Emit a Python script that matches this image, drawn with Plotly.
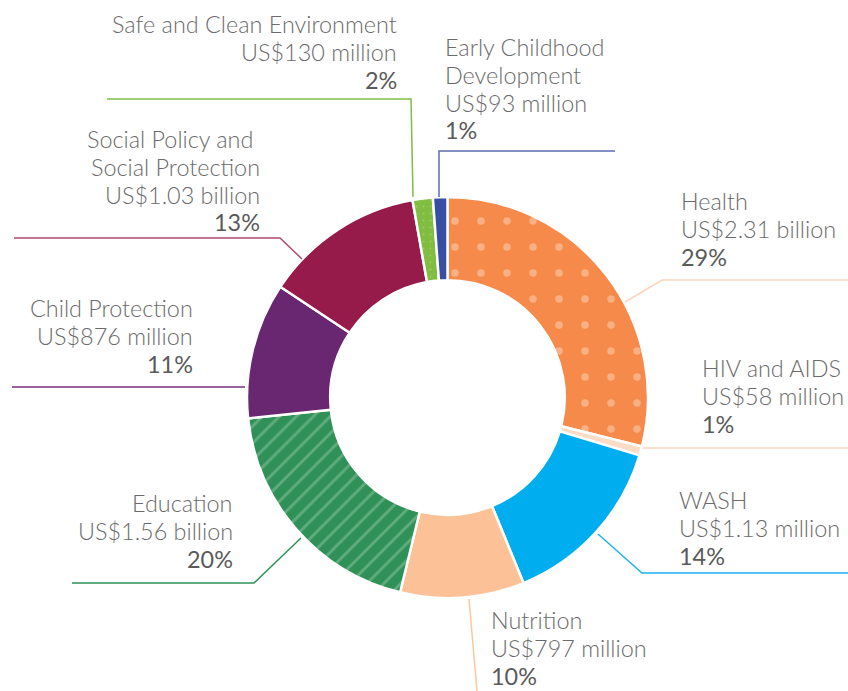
import plotly.graph_objects as go

W, H = 848, 691

# ---- data ----
categories = ["Health", "HIV and AIDS", "WASH", "Nutrition", "Education",
              "Child Protection", "Social Policy and Social Protection",
              "Safe and Clean Environment", "Early Childhood Development"]
name_lines = [["Health"], ["HIV and AIDS"], ["WASH"], ["Nutrition"], ["Education"],
              ["Child Protection"], ["Social Policy and&nbsp;", "Social Protection"],
              ["Safe and Clean Environment"], ["Early Childhood", "Development"]]
values_musd = [2310, 58, 1130, 797, 1560, 876, 1030, 130, 93]
amount_text = ["US$2.31 billion", "US$58 million", "US$1.13 million", "US$797 million",
               "US$1.56 billion", "US$876 million", "US$1.03 billion",
               "US$130 million", "US$93 million"]
pct_text = ["29%", "1%", "14%", "10%", "20%", "11%", "13%", "2%", "1%"]

# ---- styles ----
colors = ["#F58A4A", "#FDDCC6", "#00AEEF", "#FCC196", "#2F9158",
          "#692772", "#961B4A", "#80BD41", "#374EA2"]
line_colors = ["#FDD5BA", "#FDD5BA", "#1AB4EE", "#FBC79E", "#2F9158",
               "#7A2E80", "#B04A70", "#80BD41", "#5A6FB5"]
shapes_pat = [".", "", "", "", "/", "", "", ".", ""]
fg_pat = ["#FCD6BD", "#ffffff", "#ffffff", "#ffffff", "#93C8A3",
          "#ffffff", "#ffffff", "#B7D98F", "#ffffff"]
size_pat = [26, 8, 8, 8, 12, 8, 8, 7, 8]
sol_pat = [0.065, 0.3, 0.3, 0.3, 0.24, 0.3, 0.3, 0.05, 0.3]

# label placement (pixels): (x, first-line y centre, anchor)
label_pos = [(680, 201, "left"), (701, 368, "left"), (678, 500, "left"),
             (490, 620, "left"), (234, 503, "right"), (194, 308, "right"),
             (261, 139, "right"), (398, 24, "right"), (444, 47, "left")]
LINE_STEP = 27.8
# leader lines (pixels)
leaders = [
    [(625, 302), (662, 280), (848, 280)],
    [(643, 448), (848, 448)],
    [(598, 534), (642, 573), (848, 573)],
    [(469, 599), (477, 691)],
    [(301, 538), (254, 583), (72, 583)],
    [(245, 387), (12, 387)],
    [(302, 259), (280, 238), (14, 238)],
    [(413, 197), (411, 99), (107, 99)],
    [(439, 197), (439, 151), (615, 151)],
]

def px(x, y):
    return x / W, 1 - y / H

cx, cy, R = 447.5, 397.5, 200.5
x0, _ = px(cx - R, 0)
x1, _ = px(cx + R, 0)
_, y0 = px(0, cy + R)
_, y1 = px(0, cy - R)

fig = go.Figure(go.Pie(
    labels=categories,
    values=values_musd,
    hole=0.585,
    sort=False,
    direction="clockwise",
    rotation=0,
    textinfo="none",
    hoverinfo="label+value+percent",
    marker=dict(
        colors=colors,
        line=dict(color="white", width=2.5),
        pattern=dict(shape=shapes_pat, fgcolor=fg_pat,
                     size=size_pat, solidity=sol_pat, fillmode="overlay"),
    ),
    domain=dict(x=[x0, x1], y=[y0, y1]),
    showlegend=False,
))

FONT = "Lato, Roboto, 'Liberation Sans', sans-serif"
annotations = []
for nl, amt, pct, (lx, ly, anc) in zip(name_lines, amount_text, pct_text, label_pos):
    lines = [(t, False) for t in nl] + [(amt, False), (pct, True)]
    for i, (t, is_pct) in enumerate(lines):
        ax, ay = px(lx, ly + i * LINE_STEP)
        annotations.append(dict(
            x=ax, y=ay, xref="paper", yref="paper",
            xanchor=anc, yanchor="middle", align=anc, showarrow=False,
            text=t, borderpad=0,
            font=dict(family=FONT, size=23.4,
                      color="#5a5a5a" if is_pct else "#6b6b6b",
                      weight=400 if is_pct else 300),
        ))

shapes = []
for pts, lc in zip(leaders, line_colors):
    pp = [px(x, y) for x, y in pts]
    path = "M " + " L ".join(f"{a:.5f},{b:.5f}" for a, b in pp)
    shapes.append(dict(type="path", path=path, xref="paper", yref="paper",
                       line=dict(color=lc, width=1.5)))

fig.update_layout(
    width=W, height=H,
    margin=dict(l=0, r=0, t=0, b=0),
    paper_bgcolor="white", plot_bgcolor="white",
    annotations=annotations, shapes=shapes,
)

fig.write_html("out.html", config={"displayModeBar": False},
               post_script="document.body.style.margin='0px';")
